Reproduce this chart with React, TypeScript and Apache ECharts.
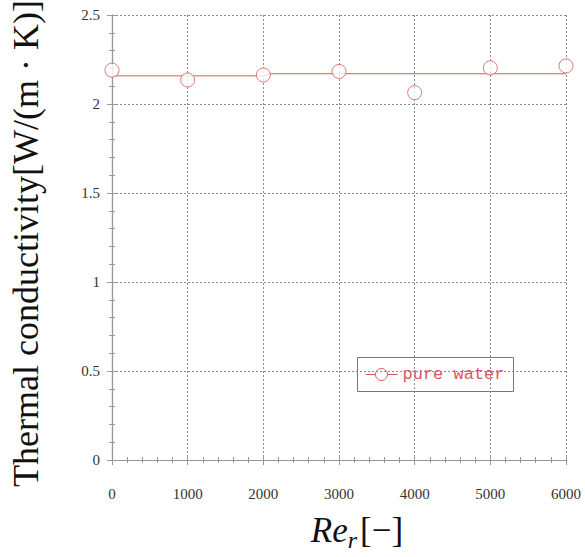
import React, { useEffect, useRef } from "react";
import * as echarts from "echarts";

const reynolds = [0, 1000, 2000, 3000, 4000, 5000, 6000];
const conductivity = [2.19, 2.135, 2.163, 2.183, 2.064, 2.203, 2.214];
const fitX = [0, 2000, 2100, 6000];
const fitY = [2.158, 2.158, 2.17, 2.17];
const xTicks = [0, 1000, 2000, 3000, 4000, 5000, 6000];
const yTicks = [0, 0.5, 1, 1.5, 2, 2.5];
const seriesName = "pure water";

const RED = "#d65a5a";
const GRID = "#8a8a8a";

export default function App() {
  const ref = useRef<HTMLDivElement>(null);
  useEffect(() => {
    const chart = echarts.init(ref.current!, null, { renderer: "svg" });
    const axisCommon = {
      axisLine: { show: true, lineStyle: { color: "#999", width: 1.2 } },
      axisTick: { show: true, inside: true, length: 5, lineStyle: { color: "#999" } },
      minorTick: { show: true, splitNumber: 5, length: 3, lineStyle: { color: "#999" } },
    };
    chart.setOption({
      animation: false,
      backgroundColor: "#fff",
      grid: { left: 108, right: 19, top: 15, bottom: 88 },
      xAxis: [
        {
          type: "value",
          min: xTicks[0],
          max: xTicks[xTicks.length - 1],
          interval: 1000,
          ...axisCommon,
          axisLabel: { fontFamily: "Liberation Serif", fontSize: 15, color: "#333", margin: 26, formatter: (v: number) => String(v) },
          splitLine: { show: true, lineStyle: { color: GRID, type: [2, 2], width: 1 } },
          name: "{a|Re}{b|r}{c|[−]}",
          nameLocation: "middle",
          nameGap: 50,
          nameTextStyle: {
            padding: [0, 0, 0, 36],
            rich: {
              a: { fontFamily: "Liberation Serif", fontStyle: "italic", fontSize: 35, color: "#111", lineHeight: 38, verticalAlign: "bottom" },
              b: { fontFamily: "Liberation Serif", fontStyle: "italic", fontSize: 24, color: "#111", lineHeight: 30, verticalAlign: "bottom", padding: [0, 3, -4, 0] },
              c: { fontFamily: "Liberation Serif", fontSize: 35, color: "#111", lineHeight: 38, verticalAlign: "bottom" },
            },
          },
        },
        {
          type: "value",
          position: "top",
          min: xTicks[0],
          max: xTicks[xTicks.length - 1],
          interval: 1000,
          ...axisCommon,
          axisLabel: { show: false },
          splitLine: { show: false },
        },
      ],
      yAxis: [
        {
          type: "value",
          min: yTicks[0],
          max: yTicks[yTicks.length - 1],
          interval: 0.5,
          ...axisCommon,
          axisLabel: { fontFamily: "Liberation Serif", fontSize: 15, color: "#333", margin: 12 },
          splitLine: { show: true, lineStyle: { color: GRID, type: [2, 2], width: 1 } },
          name: "Thermal conductivity[W/(m · K)]",
          nameLocation: "middle",
          nameGap: 68,
          nameTextStyle: { fontFamily: "Liberation Serif", fontSize: 36, color: "#111", padding: [0, 12, 0, 0] },
        },
        {
          type: "value",
          position: "right",
          min: yTicks[0],
          max: yTicks[yTicks.length - 1],
          interval: 0.5,
          ...axisCommon,
          axisLabel: { show: false },
          splitLine: { show: false },
        },
      ],
      series: [
        {
          name: "fit",
          type: "line",
          data: fitX.map((x, i) => [x, fitY[i]]),
          showSymbol: false,
          lineStyle: { color: RED, width: 1 },
          z: 2,
        },
        {
          name: seriesName,
          type: "scatter",
          data: reynolds.map((x, i) => [x, conductivity[i]]),
          symbol: "circle",
          symbolSize: 14,
          itemStyle: { color: "#fff", borderColor: RED, borderWidth: 1 },
          z: 3,
        },
      ],
      graphic: [
        {
          type: "group",
          left: 357,
          top: 357,
          z: 100,
          children: [
            { type: "rect", shape: { x: 0, y: 0, width: 156, height: 34 }, style: { fill: "#fff", stroke: "#777", lineWidth: 1 } },
            { type: "line", shape: { x1: 8, y1: 17, x2: 40, y2: 17 }, style: { stroke: RED, lineWidth: 1 } },
            { type: "circle", shape: { cx: 24, cy: 17, r: 6 }, style: { fill: "#fff", stroke: RED, lineWidth: 1 } },
            { type: "text", x: 45, y: 17, style: { text: seriesName, fill: RED, font: "17px 'Liberation Mono'", align: "left", verticalAlign: "middle" } },
          ],
        },
      ],
    });
    return () => chart.dispose();
  }, []);
  return <div ref={ref} style={{ position: "fixed", left: 0, top: 0, width: 585, height: 557 }} />;
}
